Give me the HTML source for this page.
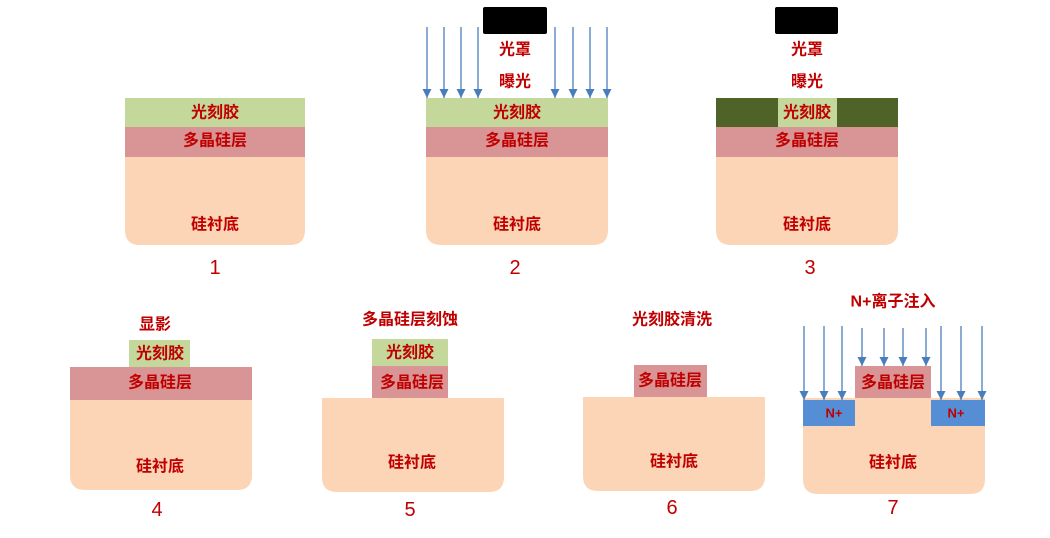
<!DOCTYPE html>
<html><head><meta charset="utf-8"><style>
html,body{margin:0;padding:0;background:#fff;}
svg{display:block}
text{font-family:"Liberation Sans","Noto Sans CJK SC",sans-serif;font-weight:bold;fill:#c00000;font-size:16px;text-anchor:middle;dominant-baseline:central}
.n{font-size:20px;font-weight:normal}
</style></head><body>
<svg width="1050" height="538" viewBox="0 0 1050 538" xmlns="http://www.w3.org/2000/svg">
<defs>
<marker id="a" markerWidth="9" markerHeight="9" refX="9" refY="4.5" orient="auto" markerUnits="userSpaceOnUse"><path d="M0,0 L9,4.5 L0,9 z" fill="#4a7ebb"/></marker>
</defs>
<!-- Panel 1 -->
<path d="M125,157 H305 V230 Q305,245 290,245 H140 Q125,245 125,230 Z" fill="#fbd5b5"/>
<rect x="125" y="127" width="180" height="30" fill="#d99595"/>
<rect x="125" y="98" width="180" height="29" fill="#c5d89b"/>
<text x="215" y="113">光刻胶</text><text x="215" y="141">多晶硅层</text><text x="215" y="225">硅衬底</text>
<text class="n" x="215" y="268">1</text>
<!-- Panel 2 -->
<path d="M426,157 H608 V230 Q608,245 593,245 H441 Q426,245 426,230 Z" fill="#fbd5b5"/>
<rect x="426" y="127" width="182" height="30" fill="#d99595"/>
<rect x="426" y="98" width="182" height="29" fill="#c5d89b"/>
<rect x="483" y="7" width="64" height="27" rx="2" fill="#000"/>
<g stroke="#4a7ebb" stroke-width="1.3" marker-end="url(#a)">
<line x1="427" y1="27" x2="427" y2="98"/><line x1="444" y1="27" x2="444" y2="98"/><line x1="461" y1="27" x2="461" y2="98"/><line x1="478" y1="27" x2="478" y2="98"/>
<line x1="555" y1="27" x2="555" y2="98"/><line x1="573" y1="27" x2="573" y2="98"/><line x1="590" y1="27" x2="590" y2="98"/><line x1="607" y1="27" x2="607" y2="98"/>
</g>
<text x="515" y="50">光罩</text><text x="515" y="82">曝光</text>
<text x="517" y="113">光刻胶</text><text x="517" y="141">多晶硅层</text><text x="517" y="225">硅衬底</text>
<text class="n" x="515" y="268">2</text>
<!-- Panel 3 -->
<path d="M716,157 H898 V230 Q898,245 883,245 H731 Q716,245 716,230 Z" fill="#fbd5b5"/>
<rect x="716" y="127" width="182" height="30" fill="#d99595"/>
<rect x="716" y="98" width="182" height="29" fill="#c5d89b"/>
<rect x="716" y="98" width="62" height="29" fill="#4f6228"/>
<rect x="837" y="98" width="61" height="29" fill="#4f6228"/>
<rect x="775" y="7" width="63" height="27" rx="2" fill="#000"/>
<text x="807" y="50">光罩</text><text x="807" y="82">曝光</text>
<text x="807" y="113">光刻胶</text><text x="807" y="141">多晶硅层</text><text x="807" y="225">硅衬底</text>
<text class="n" x="810" y="268">3</text>
<!-- Panel 4 -->
<path d="M70,400 H252 V475 Q252,490 237,490 H85 Q70,490 70,475 Z" fill="#fbd5b5"/>
<rect x="70" y="367" width="182" height="33" fill="#d99595"/>
<rect x="129" y="340" width="61" height="27" fill="#c5d89b"/>
<text x="155" y="325">显影</text>
<text x="160" y="354">光刻胶</text><text x="160" y="383">多晶硅层</text><text x="160" y="467">硅衬底</text>
<text class="n" x="157" y="510">4</text>
<!-- Panel 5 -->
<path d="M322,398 H504 V477 Q504,492 489,492 H337 Q322,492 322,477 Z" fill="#fbd5b5"/>
<rect x="372" y="366" width="76" height="32" fill="#d99595"/>
<rect x="372" y="339" width="76" height="27" fill="#c5d89b"/>
<text x="410" y="320">多晶硅层刻蚀</text>
<text x="410" y="353">光刻胶</text><text x="412" y="383">多晶硅层</text><text x="412" y="463">硅衬底</text>
<text class="n" x="410" y="510">5</text>
<!-- Panel 6 -->
<path d="M583,397 H765 V476 Q765,491 750,491 H598 Q583,491 583,476 Z" fill="#fbd5b5"/>
<rect x="634" y="365" width="73" height="32" fill="#d99595"/>
<text x="672" y="320">光刻胶清洗</text>
<text x="670" y="381">多晶硅层</text><text x="674" y="462">硅衬底</text>
<text class="n" x="672" y="508">6</text>
<!-- Panel 7 -->
<path d="M803,398 H985 V479 Q985,494 970,494 H818 Q803,494 803,479 Z" fill="#fbd5b5"/>
<rect x="803" y="400" width="52" height="26" fill="#558ed5"/>
<rect x="931" y="400" width="54" height="26" fill="#558ed5"/>
<rect x="855" y="366" width="76" height="32" fill="#d99595"/>
<g stroke="#4a7ebb" stroke-width="1.3" marker-end="url(#a)">
<line x1="804" y1="326" x2="804" y2="400"/><line x1="824" y1="326" x2="824" y2="400"/><line x1="842" y1="326" x2="842" y2="400"/>
<line x1="862" y1="328" x2="862" y2="366"/><line x1="884" y1="328" x2="884" y2="366"/><line x1="903" y1="328" x2="903" y2="366"/><line x1="926" y1="328" x2="926" y2="366"/>
<line x1="941" y1="326" x2="941" y2="400"/><line x1="961" y1="326" x2="961" y2="400"/><line x1="982" y1="326" x2="982" y2="400"/>
</g>
<text x="893" y="302">N+离子注入</text>
<text x="834" y="413" style="font-size:13px">N+</text><text x="956" y="413" style="font-size:13px">N+</text>
<text x="893" y="383">多晶硅层</text><text x="893" y="463">硅衬底</text>
<text class="n" x="893" y="508">7</text>
</svg>
</body></html>
